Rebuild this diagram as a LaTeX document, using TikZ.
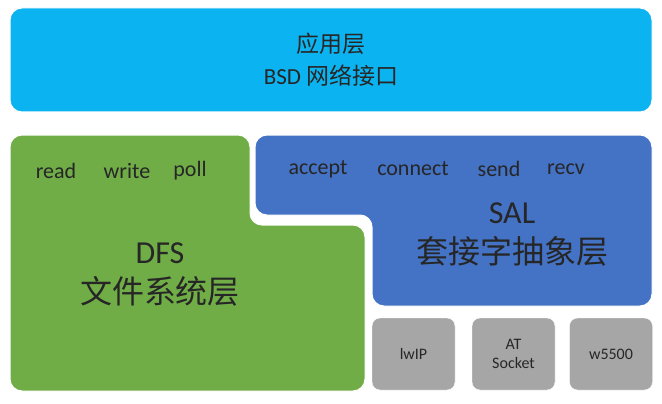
\documentclass[tikz,border=0pt]{standalone}
\usepackage{fontspec}
\setmainfont{Carlito}
\newfontfamily\cjk{Noto Sans CJK SC}
\definecolor{appcyan}{HTML}{0BB4F0}
\definecolor{dfsgreen}{HTML}{70AD47}
\definecolor{salblue}{HTML}{4472C4}
\definecolor{devgray}{HTML}{A6A6A6}
\tikzset{layer/.style = {rounded corners=12pt, draw=white, line width=1pt}}
\tikzset{dev/.style = {rectangle, rounded corners=8pt, fill=devgray, draw=white, minimum width=83pt, minimum height=72pt, font=\fontsize{16}{19}\selectfont, text=black!85, align=center}}
\tikzset{api/.style = {font=\fontsize{22}{26}\selectfont, text=black!85}}
\begin{document}
\begin{tikzpicture}[x=1pt, y=-1pt]
	\useasboundingbox (0,0) rectangle (662,404);
	\fill[white] (0,0) rectangle (662,404);
	% application layer
	\fill[layer, fill=appcyan] (10,8) rectangle (652,112);
	\node (app) [font=\fontsize{23}{32}\selectfont, text=black!85, align=center] at (331,60) {{\cjk 应用层}\\BSD {\cjk 网络接口}};
	% DFS
	\fill[layer, fill=dfsgreen] (10,135) -- (250,135) -- (250,225) -- (365,225) -- (365,391) -- (10,391) -- cycle;
	\node (read)  [api] at (56,171)  {read};
	\node (write) [api] at (127,171) {write};
	\node (poll)  [api] at (190,171) {poll};
	\node (dfs) [font=\fontsize{32}{40}\selectfont, text=black!85, align=center] at (160,275) {DFS\\{\cjk 文件系统层}};
	% SAL
	\fill[layer, fill=salblue] (255,135) -- (652,135) -- (652,306) -- (372,306) -- (372,215) -- (255,215) -- cycle;
	\node (accept)  [api] at (318,169) {accept};
	\node (connect) [api] at (413,169) {connect};
	\node (send)    [api] at (499,169) {send};
	\node (recv)    [api] at (566,169) {recv};
	\node (sal) [font=\fontsize{32}{40}\selectfont, text=black!85, align=center] at (512,235) {SAL\\{\cjk 套接字抽象层}};
	% devices
	\node (lwip)  [dev] at (413.5,354) {lwIP};
	\node (at)    [dev] at (513.5,354) {AT\\Socket};
	\node (w5500) [dev] at (611,354)   {w5500};
\end{tikzpicture}
\end{document}
